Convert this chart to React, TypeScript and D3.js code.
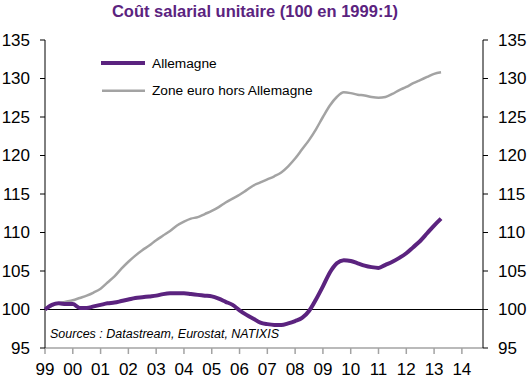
import React from "react";
import * as d3 from "d3";

const TITLE = "Coût salarial unitaire (100 en 1999:1)";
const SOURCES = "Sources : Datastream, Eurostat, NATIXIS";
const SERIES_NAMES = ["Allemagne", "Zone euro hors Allemagne"];
const START_YEAR = 1999;
const Y_TICKS = [95, 100, 105, 110, 115, 120, 125, 130, 135];
const X_TICK_LABELS = ["99", "00", "01", "02", "03", "04", "05", "06", "07", "08", "09", "10", "11", "12", "13", "14"];

const allemagne = [
  100.0, 100.6, 100.8, 100.7,
  100.7, 100.2, 100.2, 100.4,
  100.6, 100.8, 100.9, 101.1,
  101.3, 101.5, 101.6, 101.7,
  101.8, 102.0, 102.1, 102.1,
  102.1, 102.0, 101.9, 101.8,
  101.7, 101.4, 101.0, 100.6,
  99.9, 99.3, 98.8, 98.3,
  98.1, 98.0, 98.0, 98.2,
  98.5, 98.9, 99.8, 101.3,
  103.0, 104.8, 106.0, 106.4,
  106.3, 106.0, 105.7, 105.5,
  105.4, 105.8, 106.2, 106.7,
  107.3, 108.1, 108.9, 109.9,
  110.9, 111.8,
];

const zoneEuro = [
  100.0, 100.5, 100.8, 101.0,
  101.2, 101.5, 101.8, 102.2,
  102.7, 103.5, 104.3, 105.3,
  106.2, 107.0, 107.7, 108.3,
  109.0, 109.6, 110.2, 110.9,
  111.4, 111.8, 112.0, 112.4,
  112.8, 113.3, 113.9, 114.4,
  114.9, 115.5, 116.1, 116.5,
  116.9, 117.3, 117.8, 118.6,
  119.6, 120.8, 122.0, 123.4,
  125.0, 126.5, 127.6, 128.2,
  128.1, 127.9, 127.8, 127.6,
  127.5, 127.6, 128.0, 128.5,
  128.9, 129.4, 129.8, 130.2,
  130.6, 130.8,
];

const PURPLE = "#5b237f";
const GREY = "#a3a3a3";
const FONT = "'Liberation Sans', Arial, sans-serif";

export default function App() {
  const W = 531, H = 383;
  const left = 45, right = 483, top = 40, bottom = 348;
  const x = d3.scaleLinear().domain([START_YEAR, 2014.76]).range([left, right]);
  const y = d3.scaleLinear().domain([95, 135]).range([bottom, top]);
  const t = (i: number) => START_YEAR + i / 4;

  const line = d3
    .line<number>()
    .x((_, i) => x(t(i)))
    .y((d) => y(d))
    .curve(d3.curveMonotoneX);

  return (
    <svg width={W} height={H} style={{ position: "absolute", left: 0, top: 0, background: "#fff" }} fontFamily={FONT}>
      <text x={255} y={17} textAnchor="middle" fontSize={16.5} fontWeight="bold" fill={PURPLE}>
        {TITLE}
      </text>

      {/* bottom axis */}
      <line x1={left} x2={right} y1={bottom} y2={bottom} stroke={GREY} strokeWidth={1.5} />
      {X_TICK_LABELS.map((lab, i) => (
        <g key={lab}>
          <line x1={x(START_YEAR + i)} x2={x(START_YEAR + i)} y1={bottom} y2={bottom + 6} stroke={GREY} strokeWidth={1.5} />
          <text x={x(START_YEAR + i)} y={375} textAnchor="middle" fontSize={17} fill="#000">
            {lab}
          </text>
        </g>
      ))}

      {/* left and right axes */}
      <line x1={left} x2={left} y1={top} y2={bottom} stroke="#000" strokeWidth={1} />
      <line x1={right} x2={right} y1={top} y2={bottom} stroke="#000" strokeWidth={1} />
      {Y_TICKS.map((v) => (
        <g key={v}>
          <line x1={left - 5} x2={left} y1={y(v)} y2={y(v)} stroke="#000" />
          <line x1={right} x2={right + 5} y1={y(v)} y2={y(v)} stroke="#000" />
          <text x={30} y={y(v)} dy="0.35em" textAnchor="end" fontSize={17} fill="#000">
            {v}
          </text>
          <text x={498} y={y(v)} dy="0.35em" textAnchor="start" fontSize={17} fill="#000">
            {v}
          </text>
        </g>
      ))}

      {/* reference line 100 */}
      <line x1={left} x2={right} y1={y(100)} y2={y(100)} stroke="#000" strokeWidth={1.2} />

      <path d={line(zoneEuro) || ""} fill="none" stroke={GREY} strokeWidth={2.5} />
      <path d={line(allemagne) || ""} fill="none" stroke={PURPLE} strokeWidth={4} strokeLinejoin="round" />

      {/* legend */}
      <line x1={101} x2={145} y1={63} y2={63} stroke={PURPLE} strokeWidth={4} />
      <text x={152} y={67.7} fontSize={13.7} fill="#000">{SERIES_NAMES[0]}</text>
      <line x1={102} x2={145} y1={90.7} y2={90.7} stroke={GREY} strokeWidth={2.5} />
      <text x={152} y={95.3} fontSize={13.7} fill="#000">{SERIES_NAMES[1]}</text>

      <text x={50} y={338} fontSize={12.5} fontStyle="italic" fill="#000">
        {SOURCES}
      </text>
    </svg>
  );
}
